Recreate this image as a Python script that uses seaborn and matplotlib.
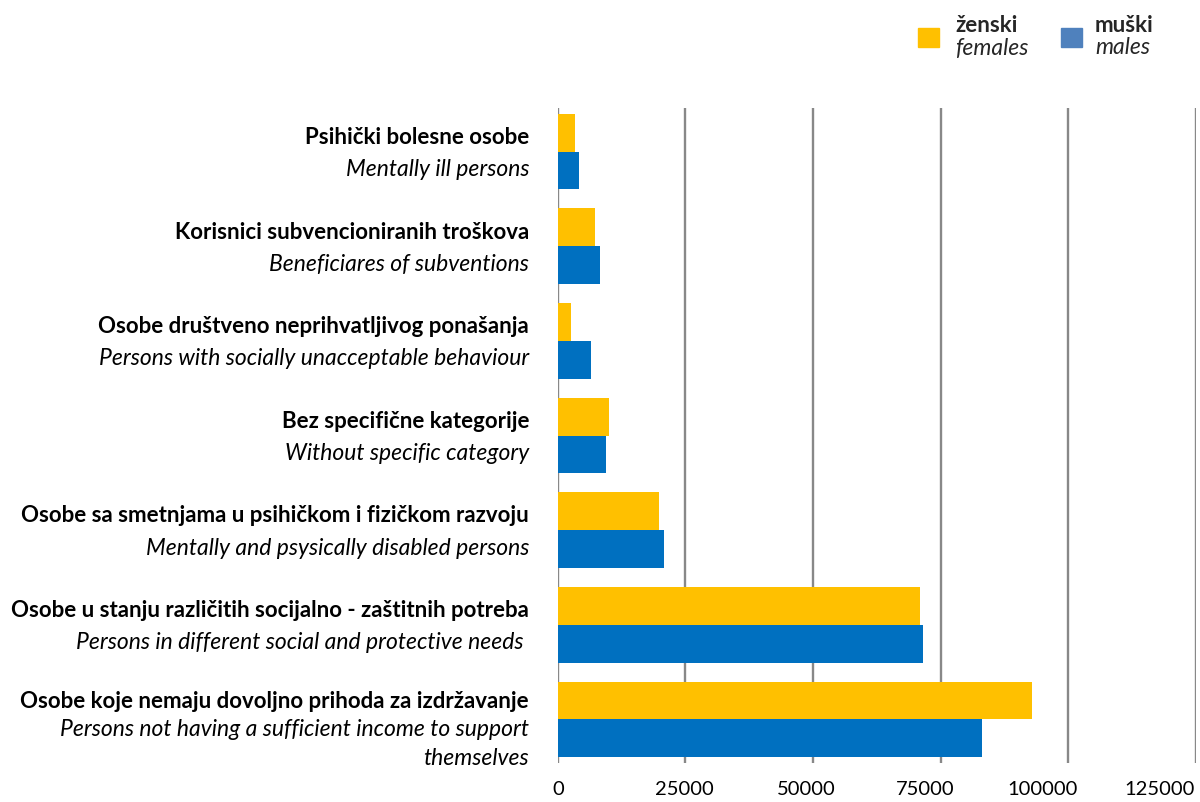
import pandas as pd
import matplotlib.pyplot as plt
import matplotlib.transforms as mtransforms
import seaborn as sns
from matplotlib.patches import Rectangle

# categories (Croatian bold line + English italic line)
cat_hr = [
    "Psihički bolesne osobe",
    "Korisnici subvencioniranih troškova",
    "Osobe društveno neprihvatljivog ponašanja",
    "Bez specifične kategorije",
    "Osobe sa smetnjama u psihičkom i fizičkom razvoju",
    "Osobe u stanju različitih socijalno - zaštitnih potreba",
    "Osobe koje nemaju dovoljno prihoda za izdržavanje",
]
cat_en = [
    "Mentally ill persons",
    "Beneficiares of subventions",
    "Persons with socially unacceptable behaviour",
    "Without specific category",
    "Mentally and psysically disabled persons",
    "Persons in different social and protective needs ",
    "Persons not having a sufficient income to support\nthemselves",
]
females = [3450, 7200, 2500, 10000, 19800, 70900, 92800]
males = [4200, 8300, 6600, 9350, 20900, 71500, 83100]
x_ticks = [0, 25000, 50000, 75000, 100000, 125000]

yellow = "#FFC000"
blue = "#0070C0"
legend_blue = "#4F81BD"

df = pd.DataFrame({
    "cat": cat_hr * 2,
    "value": females + males,
    "sex": ["ženski"] * len(cat_hr) + ["muški"] * len(cat_hr),
})

sns.set_theme(style="white")
plt.rcParams["font.family"] = ["Lato", "DejaVu Sans"]

fig = plt.figure(figsize=(12, 8.02), dpi=100)
ax = fig.add_axes([0.4648, 0.0486, 0.5319, 0.8167])

sns.barplot(
    data=df, y="cat", x="value", hue="sex", orient="h",
    order=cat_hr, hue_order=["ženski", "muški"],
    palette=[yellow, blue], saturation=1, width=0.8,
    linewidth=0, legend=False, ax=ax, zorder=3,
)

ax.set_xlim(0, 125000)
ax.set_ylim(6.46, -0.46)
ax.set_xticks(x_ticks)
ax.set_xticklabels([str(t) for t in x_ticks], fontsize=14.5, color="#000000")
ax.tick_params(axis="x", length=0, pad=13)
# labels in the original sit a little left of their gridlines
shifts = [0, -1, -7, -16, -26, -36]
for lab, dx in zip(ax.get_xticklabels(), shifts):
    lab.set_transform(lab.get_transform() +
                      mtransforms.ScaledTranslation(dx / 100, 0, fig.dpi_scale_trans))
ax.set_yticks([])
ax.set_xlabel("")
ax.set_ylabel("")
for s in ax.spines.values():
    s.set_visible(False)
for t in x_ticks:
    ax.axvline(t, color="#888888", lw=1.7, zorder=1)

# category labels
for i, (hr, en) in enumerate(zip(cat_hr, cat_en)):
    extra = en.count("\n")
    ax.text(-0.045, i - 0.15 - 0.04 * extra, hr, transform=ax.get_yaxis_transform(),
            ha="right", va="center", fontsize=16, fontweight="bold", color="black")
    ax.text(-0.045, i + 0.08 - 0.08 * extra, en, transform=ax.get_yaxis_transform(),
            ha="right", va="top", fontsize=16.5, fontstyle="italic",
            color="black", linespacing=1.42)

# legend
fig.add_artist(Rectangle((918 / 1200, 1 - 47 / 802), 21 / 1200, 19 / 802,
                         transform=fig.transFigure, color=yellow))
fig.add_artist(Rectangle((1061 / 1200, 1 - 47 / 802), 21 / 1200, 19 / 802,
                         transform=fig.transFigure, color=legend_blue))
fig.text(955 / 1200, 1 - 25 / 802, "ženski", fontsize=16, fontweight="bold", va="center")
fig.text(955 / 1200, 1 - 48 / 802, "females", fontsize=16.5, fontstyle="italic", va="center")
fig.text(1095 / 1200, 1 - 25 / 802, "muški", fontsize=16, fontweight="bold", va="center")
fig.text(1095 / 1200, 1 - 48 / 802, "males", fontsize=16.5, fontstyle="italic", va="center")

fig.savefig("out.png", dpi=100)
